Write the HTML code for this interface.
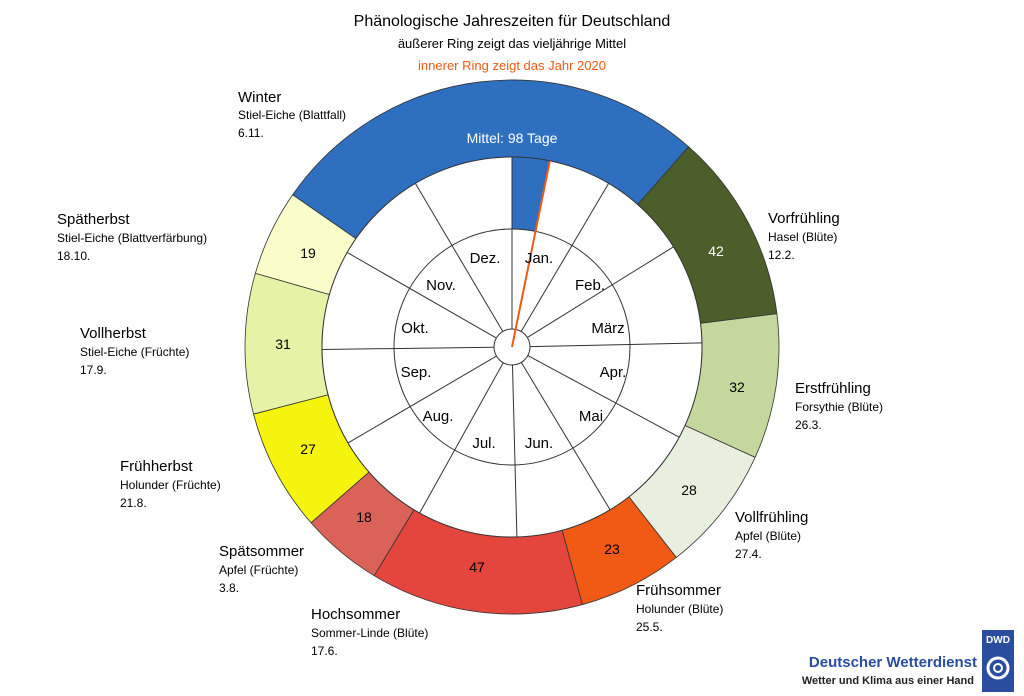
<!DOCTYPE html>
<html><head><meta charset="utf-8"><style>
html,body{margin:0;padding:0;background:#fff;}
svg{display:block;font-family:"Liberation Sans",Arial,sans-serif;}
</style></head><body>
<svg id="s" width="1024" height="696" viewBox="0 0 1024 696" xmlns="http://www.w3.org/2000/svg">
<g id="g"></g>
<g font-size="16" text-anchor="middle">
<text x="512" y="26">Phänologische Jahreszeiten für Deutschland</text>
<text x="512" y="48" font-size="13">äußerer Ring zeigt das vieljährige Mittel</text>
<text x="512" y="70" font-size="13" fill="#f05a14">innerer Ring zeigt das Jahr 2020</text>
</g>
<g font-size="14" text-anchor="middle">
<text x="512" y="143" fill="#fff">Mittel: 98 Tage</text>
<text x="716" y="256" fill="#fff">42</text>
<text x="737" y="392">32</text>
<text x="689" y="495">28</text>
<text x="612" y="554">23</text>
<text x="477" y="572">47</text>
<text x="364" y="522">18</text>
<text x="308" y="454">27</text>
<text x="283" y="349">31</text>
<text x="308" y="258">19</text>
</g>
<g font-size="15" text-anchor="middle">
<text x="539" y="263">Jan.</text>
<text x="590" y="290">Feb.</text>
<text x="608" y="333">März</text>
<text x="613" y="377">Apr.</text>
<text x="591" y="421">Mai</text>
<text x="539" y="448">Jun.</text>
<text x="484" y="448">Jul.</text>
<text x="438" y="421">Aug.</text>
<text x="416" y="377">Sep.</text>
<text x="415" y="333">Okt.</text>
<text x="441" y="290">Nov.</text>
<text x="485" y="263">Dez.</text>
</g>
<g font-size="12">
<text x="238" y="102" font-size="15">Winter</text><text x="238" y="119">Stiel-Eiche (Blattfall)</text><text x="238" y="137">6.11.</text>
<text x="57" y="224" font-size="15">Spätherbst</text><text x="57" y="242">Stiel-Eiche (Blattverfärbung)</text><text x="57" y="260">18.10.</text>
<text x="80" y="338" font-size="15">Vollherbst</text><text x="80" y="356">Stiel-Eiche (Früchte)</text><text x="80" y="374">17.9.</text>
<text x="120" y="471" font-size="15">Frühherbst</text><text x="120" y="489">Holunder (Früchte)</text><text x="120" y="507">21.8.</text>
<text x="219" y="556" font-size="15">Spätsommer</text><text x="219" y="574">Apfel (Früchte)</text><text x="219" y="592">3.8.</text>
<text x="311" y="619" font-size="15">Hochsommer</text><text x="311" y="637">Sommer-Linde (Blüte)</text><text x="311" y="655">17.6.</text>
<text x="768" y="223" font-size="15">Vorfrühling</text><text x="768" y="241">Hasel (Blüte)</text><text x="768" y="259">12.2.</text>
<text x="795" y="393" font-size="15">Erstfrühling</text><text x="795" y="411">Forsythie (Blüte)</text><text x="795" y="429">26.3.</text>
<text x="735" y="522" font-size="15">Vollfrühling</text><text x="735" y="540">Apfel (Blüte)</text><text x="735" y="558">27.4.</text>
<text x="636" y="595" font-size="15">Frühsommer</text><text x="636" y="613">Holunder (Blüte)</text><text x="636" y="631">25.5.</text>
</g>
<text x="977" y="667" font-size="15" font-weight="bold" fill="#2a4da0" text-anchor="end">Deutscher Wetterdienst</text>
<text x="974" y="684" font-size="11" font-weight="bold" fill="#222" text-anchor="end">Wetter und Klima aus einer Hand</text>
<rect x="982" y="630" width="32" height="62" fill="#2a4da0"/>
<text x="998" y="643" font-size="10" font-weight="bold" fill="#fff" text-anchor="middle">DWD</text>
<circle cx="998" cy="668" r="10" fill="none" stroke="#fff" stroke-width="3"/>
<circle cx="998" cy="668" r="4" fill="none" stroke="#fff" stroke-width="2"/>
</svg>
<script>
var cx=512,cy=347,R=267,r1=190,r2=118,r0=18,NS="http://www.w3.org/2000/svg",g=document.getElementById('g');
function pt(a,r){a=a*Math.PI/180;return [cx+r*Math.sin(a),cy-r*Math.cos(a)];}
function arc(a0,a1,ro,ri,fill){var p1=pt(a0,ro),p2=pt(a1,ro),p3=pt(a1,ri),p4=pt(a0,ri),l=(a1-a0)>180?1:0;
var e=document.createElementNS(NS,'path');e.setAttribute('d','M'+p1+' A'+ro+' '+ro+' 0 '+l+' 1 '+p2+' L'+p3+' A'+ri+' '+ri+' 0 '+l+' 0 '+p4+'Z');
e.setAttribute('fill',fill);e.setAttribute('stroke','#333');e.setAttribute('stroke-width','0.8');g.appendChild(e);}
function d2a(d){return d/365*360;}
var seg=[[309,407,'#2f6fc0'],[42,84,'#4c5e2a'],[84,116,'#c4d89e'],[116,144,'#e9efdf'],[144,167,'#f05a14'],[167,214,'#e4453c'],[214,232,'#db6259'],[232,259,'#f4f40c'],[259,290,'#e6f3a6'],[290,309,'#fafdca']];
seg.forEach(function(s){arc(d2a(s[0]),d2a(s[1]),R,r1,s[2]);});
var c=document.createElementNS(NS,'circle');c.setAttribute('cx',cx);c.setAttribute('cy',cy);c.setAttribute('r',r1);c.setAttribute('fill','#fff');c.setAttribute('stroke','#333');g.appendChild(c);
arc(0,11.5,r1,r2,'#2f6fc0');
var m=[0,31,59,90,120,151,181,212,243,273,304,334];
m.forEach(function(d){var a=pt(d2a(d),r0),b=pt(d2a(d),r1);var l=document.createElementNS(NS,'line');l.setAttribute('x1',a[0]);l.setAttribute('y1',a[1]);l.setAttribute('x2',b[0]);l.setAttribute('y2',b[1]);l.setAttribute('stroke','#333');l.setAttribute('stroke-width','1');g.appendChild(l);});
[r2,r0].forEach(function(r){var c=document.createElementNS(NS,'circle');c.setAttribute('cx',cx);c.setAttribute('cy',cy);c.setAttribute('r',r);c.setAttribute('fill',r==r0?'#fff':'none');c.setAttribute('stroke','#333');g.appendChild(c);});
var b=pt(11.5,r1),l=document.createElementNS(NS,'line');l.setAttribute('x1',cx);l.setAttribute('y1',cy);l.setAttribute('x2',b[0]);l.setAttribute('y2',b[1]);l.setAttribute('stroke','#f05a14');l.setAttribute('stroke-width','2');g.appendChild(l);
</script>
</body></html>
